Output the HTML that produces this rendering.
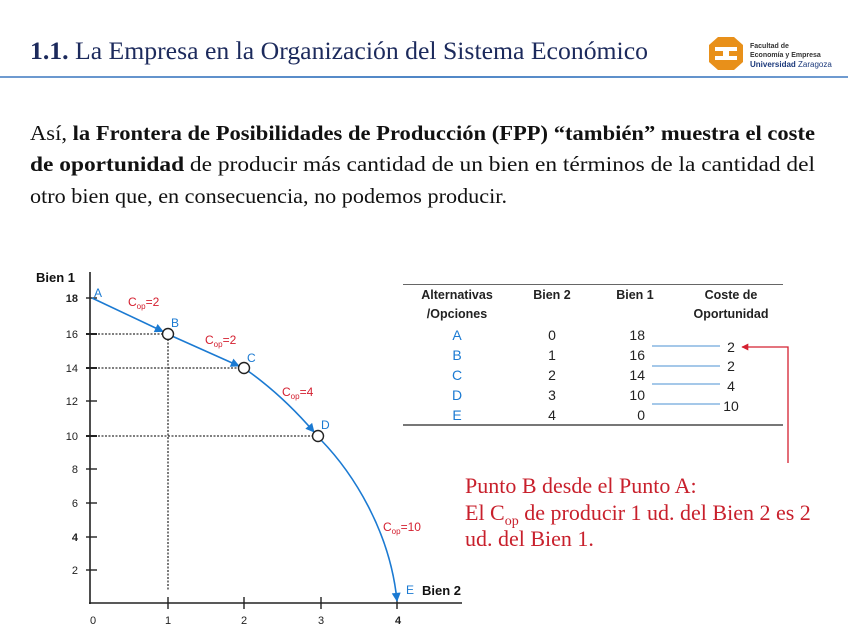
<!DOCTYPE html>
<html><head><meta charset="utf-8">
<style>
html,body{margin:0;padding:0;background:#fff;}
body{width:848px;height:636px;position:relative;overflow:hidden;font-family:"Liberation Serif",serif;}
.hline{position:absolute;left:0;top:76px;width:848px;height:2px;background:linear-gradient(to right,#6f9bd0,#4f86c6 50%,#6f9bd0);}
</style></head><body>
<div class="hline"></div>

<svg style="position:absolute;left:0;top:0" width="848" height="636" xmlns="http://www.w3.org/2000/svg">
  <!-- title -->
  <text x="30" y="59" font-family="Liberation Serif,serif" font-size="25.7" fill="#1c2a5c" textLength="618" lengthAdjust="spacingAndGlyphs"><tspan font-weight="bold">1.1.</tspan> La Empresa en la Organización del Sistema Económico</text>
  <!-- logo -->
  <polygon points="718,37 734,37 743,45 743,62 734,70 718,70 709,62 709,45" fill="#e8901a"/>
  <rect x="715" y="47" width="22" height="4" fill="#fff"/>
  <rect x="715" y="56" width="22" height="4" fill="#fff"/>
  <rect x="723" y="51" width="6" height="5" fill="#fff"/>
  <text x="750" y="48" font-family="Liberation Sans,sans-serif" font-size="7" font-weight="bold" fill="#333">Facultad de</text>
  <text x="750" y="57" font-family="Liberation Sans,sans-serif" font-size="7" font-weight="bold" fill="#333">Economía y Empresa</text>
  <text x="750" y="67" font-family="Liberation Sans,sans-serif" font-size="8" fill="#1c3a7c"><tspan font-weight="bold">Universidad</tspan> Zaragoza</text>

  <!-- paragraph -->
  <g font-family="Liberation Serif,serif" font-size="21" fill="#111">
    <text x="30" y="140" textLength="785" lengthAdjust="spacingAndGlyphs">Así, <tspan font-weight="bold">la Frontera de Posibilidades de Producción (FPP) “también” muestra el coste</tspan></text>
    <text x="30" y="171" textLength="785" lengthAdjust="spacingAndGlyphs"><tspan font-weight="bold">de oportunidad</tspan> de producir más cantidad de un bien en términos de la cantidad del</text>
    <text x="30" y="203" textLength="477" lengthAdjust="spacingAndGlyphs">otro bien que, en consecuencia, no podemos producir.</text>
  </g>

  <!-- red note -->
  <g font-family="Liberation Serif,serif" font-size="22" fill="#c8202c">
    <text x="465" y="493">Punto B desde el Punto A:</text>
    <text x="465" y="520">El C<tspan font-size="14" dy="5">op</tspan><tspan dy="-5"> de producir 1 ud. del Bien 2 es 2</tspan></text>
    <text x="465" y="546">ud. del Bien 1.</text>
  </g>
</svg>

<svg style="position:absolute;left:0;top:0" width="848" height="636" xmlns="http://www.w3.org/2000/svg">
  <defs>
    <marker id="ar" viewBox="0 0 10 10" refX="9" refY="5" markerWidth="11" markerHeight="9" markerUnits="userSpaceOnUse" orient="auto">
      <path d="M0,0 L10,5 L0,10 z" fill="#1b7ad2"/>
    </marker>
    <marker id="rr" viewBox="0 0 10 10" refX="9" refY="5" markerWidth="8" markerHeight="7" markerUnits="userSpaceOnUse" orient="auto">
      <path d="M0,0 L10,5 L0,10 z" fill="#d42030"/>
    </marker>
  </defs>
  <g font-family="Liberation Sans,sans-serif">
  <line x1="90" y1="272" x2="90" y2="604" stroke="#222" stroke-width="1.6"/>
  <line x1="89" y1="603" x2="462" y2="603" stroke="#222" stroke-width="1.6"/>
  <g stroke="#222" stroke-width="1.4">
    <line x1="86" y1="298" x2="97" y2="298"/>
    <line x1="86" y1="334" x2="97" y2="334" stroke-width="2"/>
    <line x1="86" y1="368" x2="97" y2="368" stroke-width="2"/>
    <line x1="86" y1="401" x2="97" y2="401"/>
    <line x1="86" y1="436" x2="97" y2="436" stroke-width="2"/>
    <line x1="86" y1="469" x2="97" y2="469"/>
    <line x1="86" y1="503" x2="97" y2="503"/>
    <line x1="86" y1="537" x2="97" y2="537"/>
    <line x1="86" y1="570" x2="97" y2="570"/>
    <line x1="168" y1="597" x2="168" y2="609"/>
    <line x1="244" y1="597" x2="244" y2="609"/>
    <line x1="321" y1="597" x2="321" y2="609"/>
    <line x1="397" y1="597" x2="397" y2="609"/>
  </g>
  <g font-size="11" fill="#222" text-anchor="end">
    <text x="78" y="302" font-weight="bold">18</text>
    <text x="78" y="338">16</text>
    <text x="78" y="372">14</text>
    <text x="78" y="405">12</text>
    <text x="78" y="440">10</text>
    <text x="78" y="473">8</text>
    <text x="78" y="507">6</text>
    <text x="78" y="541" font-weight="bold">4</text>
    <text x="78" y="574">2</text>
  </g>
  <g font-size="11" fill="#222" text-anchor="middle">
    <text x="93" y="624">0</text>
    <text x="168" y="624">1</text>
    <text x="244" y="624">2</text>
    <text x="321" y="624">3</text>
    <text x="398" y="624" font-weight="bold">4</text>
  </g>
  <text x="36" y="282" font-size="13" font-weight="bold" fill="#111">Bien 1</text>
  <text x="422" y="595" font-size="13" font-weight="bold" fill="#111">Bien 2</text>
  <g stroke="#333" stroke-width="1.3" stroke-dasharray="2,1.5" fill="none">
    <line x1="98" y1="334" x2="163" y2="334"/>
    <line x1="98" y1="368" x2="239" y2="368"/>
    <line x1="98" y1="436" x2="313" y2="436"/>
    <line x1="168" y1="339" x2="168" y2="590"/>
  </g>
  <g stroke="#1b7ad2" stroke-width="1.6" fill="none">
    <path d="M92,298 L163,331.5" marker-end="url(#ar)"/>
    <path d="M173,336.5 L239,366" marker-end="url(#ar)"/>
    <path d="M248,371 Q283,396 314,432" marker-end="url(#ar)"/>
    <path d="M321,440 C352,472 390,530 397,601" marker-end="url(#ar)"/>
  </g>
  <g fill="#fff" stroke="#222" stroke-width="1.4">
    <circle cx="168" cy="334" r="5.5"/>
    <circle cx="244" cy="368" r="5.5"/>
    <circle cx="318" cy="436" r="5.5"/>
  </g>
  <g font-size="12" fill="#1b7ad2">
    <text x="94" y="297">A</text>
    <text x="171" y="327">B</text>
    <text x="247" y="362">C</text>
    <text x="321" y="429">D</text>
    <text x="406" y="594">E</text>
  </g>
  <g font-size="12" fill="#d42030">
    <text x="128" y="306">C<tspan font-size="8" dy="3">op</tspan><tspan dy="-3">=2</tspan></text>
    <text x="205" y="344">C<tspan font-size="8" dy="3">op</tspan><tspan dy="-3">=2</tspan></text>
    <text x="282" y="396">C<tspan font-size="8" dy="3">op</tspan><tspan dy="-3">=4</tspan></text>
    <text x="383" y="531">C<tspan font-size="8" dy="3">op</tspan><tspan dy="-3">=10</tspan></text>
  </g>
  <line x1="403" y1="284.5" x2="783" y2="284.5" stroke="#666" stroke-width="1"/>
  <line x1="403" y1="425" x2="783" y2="425" stroke="#777" stroke-width="2"/>
  <g font-size="12.5" font-weight="bold" fill="#222" text-anchor="middle">
    <text x="457" y="299">Alternativas</text>
    <text x="457" y="318">/Opciones</text>
    <text x="552" y="299">Bien 2</text>
    <text x="635" y="299">Bien 1</text>
    <text x="731" y="299">Coste de</text>
    <text x="731" y="318">Oportunidad</text>
  </g>
  <g font-size="14" fill="#1b7ad2" text-anchor="middle">
    <text x="457" y="340">A</text>
    <text x="457" y="360">B</text>
    <text x="457" y="380">C</text>
    <text x="457" y="400">D</text>
    <text x="457" y="420">E</text>
  </g>
  <g font-size="14" fill="#222" text-anchor="middle">
    <text x="552" y="340">0</text>
    <text x="552" y="360">1</text>
    <text x="552" y="380">2</text>
    <text x="552" y="400">3</text>
    <text x="552" y="420">4</text>
  </g>
  <g font-size="14" fill="#222" text-anchor="end">
    <text x="645" y="340">18</text>
    <text x="645" y="360">16</text>
    <text x="645" y="380">14</text>
    <text x="645" y="400">10</text>
    <text x="645" y="420">0</text>
  </g>
  <g font-size="14" fill="#222" text-anchor="middle">
    <text x="731" y="352">2</text>
    <text x="731" y="371">2</text>
    <text x="731" y="391">4</text>
    <text x="731" y="411">10</text>
  </g>
  <g stroke="#6fa6dc" stroke-width="1.3">
    <line x1="652" y1="346" x2="720" y2="346"/>
    <line x1="652" y1="366" x2="720" y2="366"/>
    <line x1="652" y1="384" x2="720" y2="384"/>
    <line x1="652" y1="404" x2="720" y2="404"/>
  </g>
  <path d="M788,463 L788,347 L742,347" stroke="#d42030" stroke-width="1.3" fill="none" marker-end="url(#rr)"/>
  </g>
</svg>
</body></html>
